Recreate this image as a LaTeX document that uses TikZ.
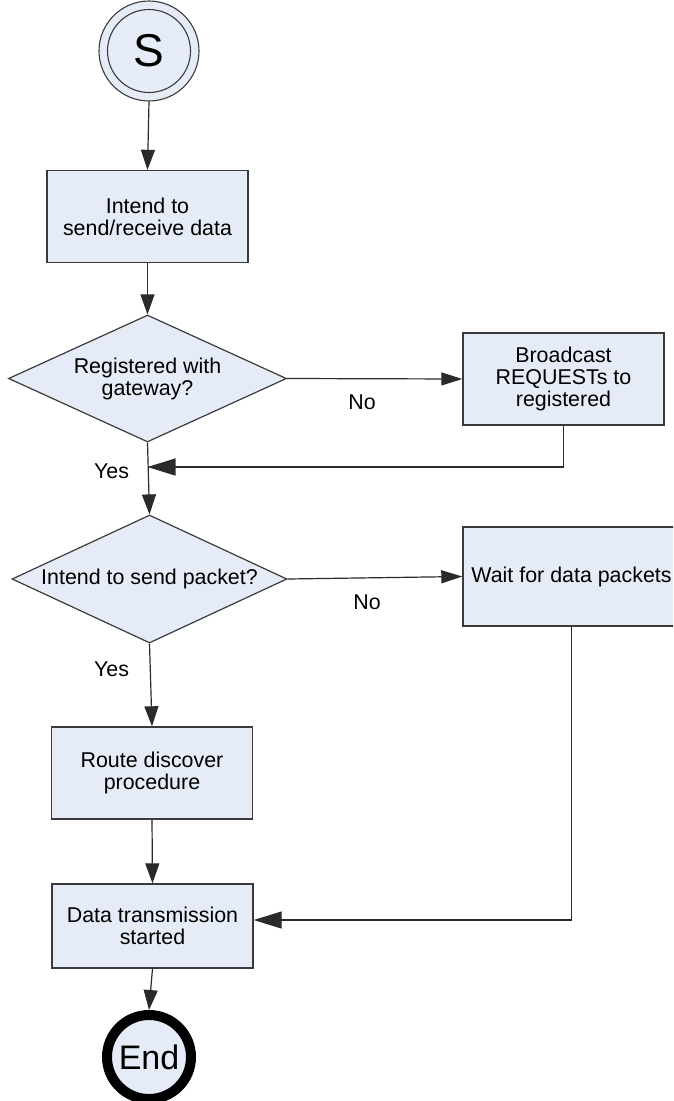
\documentclass[tikz,border=0pt]{standalone}
\usepackage{fontspec}
\setmainfont{Liberation Sans}
\usetikzlibrary{shapes.geometric,arrows.meta}
\definecolor{boxfill}{HTML}{E6ECF7}
\definecolor{boxline}{HTML}{3A3A3A}
\definecolor{connline}{HTML}{2A2A2A}
\tikzset{
  txt/.style={font=\fontsize{21.4pt}{22pt}\selectfont},
  proc/.style={txt, draw=boxline, line width=1.4pt, fill=boxfill, minimum width=201pt, minimum height=92pt, inner sep=0pt, align=center},
  decis/.style={txt, diamond, shape aspect=2.2, draw=boxline, line width=1.2pt, fill=boxfill, minimum width=278pt, minimum height=127pt, inner sep=0pt, align=center},
  conn/.style={draw=connline, line width=1.2pt},
  tipv/.style={-{Triangle[length=20pt,width=14pt]}},
  tiph/.style={-{Triangle[length=21pt,width=13pt]}},
  tipl/.style={-{Triangle[length=28pt,width=17pt]}},
  lbl/.style={txt, inner sep=0pt},
}
\begin{document}
\begin{tikzpicture}[x=1pt,y=-1pt]
\useasboundingbox (0,0) rectangle (673,1101);
\clip (0,0) rectangle (673,1101);
% start
\node[circle, draw=boxline, line width=1.1pt, fill=boxfill, minimum size=100pt, inner sep=0pt] (start) at (149,51) {};
\node[circle, draw=boxline, line width=1.1pt, minimum size=83pt, inner sep=0pt, font=\fontsize{46pt}{48pt}\selectfont] (starti) at (149,51) {S};
% boxes
\node[proc] (box1) at (147.5,216.5) {Intend to\\send/receive data};
\node[decis] (d1) at (147.5,378.5) {Registered with\\gateway?};
\node[proc] (box2) at (563.5,379) {Broadcast\\REQUESTs to\\registered};
\node[decis, minimum width=275pt, minimum height=128pt] (d2) at (149.5,579) {Intend to send packet?};
\node[proc, minimum width=217pt, minimum height=99pt] (box3) at (571.5,576.5) {Wait for data packets};
\node[proc] (box4) at (152,773) {Route discover\\procedure};
\node[proc, minimum height=84pt] (box5) at (152.5,926) {Data transmission\\started};
\node[circle, draw=black, line width=10pt, fill=boxfill, minimum size=84pt, inner sep=0pt, font=\fontsize{34pt}{36pt}\selectfont] (end) at (149,1057) {End};
% junctions
\coordinate (j1) at (147.5,467);
\coordinate (j2) at ([yshift=6pt]box5.east);
% connectors
\draw[conn,tipv] (start.south) -- (box1.north);
\draw[conn,tipv] (box1.south) -- (d1.north);
\draw[conn,tiph] (d1.east) -- (box2.west);
\draw[conn,tipl] (box2.south) |- (j1);
\draw[conn,tipv] (d1.south) -- (d2.north);
\draw[conn,tiph] (d2.east) -- (box3.west);
\draw[conn,tipv] (d2.south) -- (box4.north);
\draw[conn,tipv] (box4.south) -- (box5.north);
\draw[conn,tipl] (box3.south) |- (j2);
\draw[conn,tipv] (box5.south) -- (end.north);
% labels
\node[lbl] (no1) at (362,402.5) {No};
\node[lbl] (no2) at (367,602.5) {No};
\node[lbl] (yes1) at (111.5,471.5) {Yes};
\node[lbl] (yes2) at (111.5,669.5) {Yes};
\end{tikzpicture}
\end{document}
